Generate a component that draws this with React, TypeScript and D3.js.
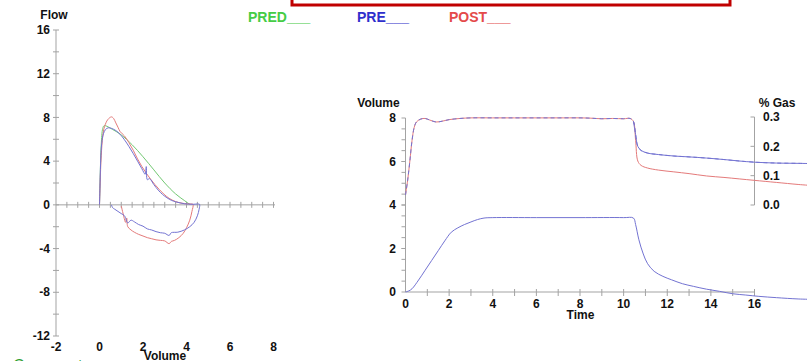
import React from "react";
import * as d3 from "d3";

const W = 807;
const H = 361;
const FONT = "'Liberation Sans', Arial, Helvetica, sans-serif";

// ---------- Flow–volume loop ----------
const flowMajorTicks = [-12, -8, -4, 0, 4, 8, 12, 16];
const flowMinorTicks = [-10, -6, -2, 2, 6, 10, 14];
const volumeTickLabels = [-2, 0, 2, 4, 6, 8];

// Predicted expiratory curve
const predVolume = [0, 0.03, 0.08, 0.15, 0.22, 0.6, 1.0, 1.5, 2.0, 2.5, 3.0, 3.5, 3.9, 4.15];
const predFlow = [0, 2.5, 5.5, 7.0, 7.25, 6.9, 6.4, 5.5, 4.4, 3.2, 2.0, 1.0, 0.4, 0.05];

// Pre-bronchodilator loop (expiration then inspiration)
const preVolume = [
  0, 0.02, 0.05, 0.1, 0.18, 0.28, 0.4, 0.55, 0.75, 0.95, 1.15, 1.35, 1.55, 1.75, 1.95, 2.1, 2.15, 2.2,
  2.3, 2.5, 2.7, 2.9, 3.1, 3.3, 3.5, 3.7, 3.9, 4.1, 4.3, 4.5, 4.6,
  4.58, 4.5, 4.35, 4.15, 3.9, 3.6, 3.3, 3.2, 3.0, 2.8, 2.6, 2.4, 2.2, 2.0, 1.8, 1.6, 1.45, 1.3, 1.15,
  1.0, 0.85, 0.7, 0.6, 0.55,
];
const preFlow = [
  0, 1.5, 3.8, 5.6, 6.5, 6.9, 7.05, 7.0, 6.8, 6.45, 5.95, 5.35, 4.7, 4.0, 3.3, 2.8, 3.5, 2.3,
  2.4, 1.85, 1.35, 0.95, 0.65, 0.42, 0.28, 0.18, 0.1, 0.07, 0.05, 0.08, 0.05,
  -0.4, -1.0, -1.6, -2.0, -2.3, -2.5, -2.55, -2.8, -2.6, -2.55, -2.45, -2.3, -2.2, -1.95, -1.8, -1.55,
  -1.4, -1.65, -1.0, -0.8, -0.6, -0.4, -0.25, 0,
];

// Post-bronchodilator loop (expiration then inspiration)
const postVolume = [
  0, 0.03, 0.08, 0.15, 0.23, 0.38, 0.55, 0.65, 0.75, 0.85, 0.95, 1.15, 1.35, 1.55, 1.75, 1.95, 2.15,
  2.35, 2.55, 2.75, 2.95, 3.2, 3.5, 3.8, 4.0, 4.2, 4.3,
  4.25, 4.15, 4.0, 3.85, 3.65, 3.45, 3.3, 3.2, 3.0, 2.8, 2.6, 2.4, 2.2, 2.0, 1.8, 1.6, 1.45, 1.3,
  1.25, 1.2, 1.12, 1.06, 1.0,
];
const postFlow = [
  0, 2.0, 4.5, 6.3, 7.15, 7.8, 8.05, 7.9, 7.5, 7.1, 6.7, 6.3, 5.7, 5.0, 4.2, 3.5, 2.9,
  2.35, 1.85, 1.4, 1.0, 0.6, 0.3, 0.15, 0.1, 0.08, 0.05,
  -0.6, -1.4, -2.1, -2.6, -3.0, -3.25, -3.35, -3.55, -3.3, -3.25, -3.2, -3.1, -3.0, -2.85, -2.7, -2.5,
  -2.3, -2.0, -1.2, -1.6, -1.1, -0.6, -0.1,
];

// ---------- Washout vs. time ----------
const volumeTicks = [0, 2, 4, 6, 8];
const timeTickLabels = [0, 2, 4, 6, 8, 10, 12, 14, 16];
const gasTicks = [0, 0.1, 0.2, 0.3];

const gasTime = [
  0, 0.1, 0.2, 0.3, 0.4, 0.5, 0.7, 0.9, 1.1, 1.4, 1.7, 2.0, 2.5, 3.0, 4, 5, 6, 7, 8, 8.5, 9, 9.5, 10,
  10.3, 10.45, 10.55, 10.65, 10.8, 11.1, 11.6, 12.3, 13, 13.8, 14.6, 15.3, 16, 17, 18, 18.7,
];
const gasPre = [
  0.034, 0.085, 0.15, 0.22, 0.265, 0.283, 0.293, 0.295, 0.29, 0.283, 0.286, 0.291, 0.295, 0.297, 0.297,
  0.297, 0.297, 0.297, 0.297, 0.296, 0.294, 0.295, 0.294, 0.295, 0.285, 0.24, 0.2, 0.186, 0.177, 0.172,
  0.167, 0.164, 0.16, 0.155, 0.15, 0.146, 0.143, 0.142, 0.141,
];
const gasPost = [
  0.034, 0.085, 0.15, 0.22, 0.265, 0.283, 0.293, 0.295, 0.29, 0.283, 0.286, 0.291, 0.295, 0.297, 0.297,
  0.297, 0.297, 0.297, 0.297, 0.296, 0.294, 0.295, 0.294, 0.295, 0.285, 0.22, 0.15, 0.135, 0.126, 0.119,
  0.113, 0.107, 0.099, 0.094, 0.089, 0.084, 0.077, 0.07, 0.066,
];

const washTime = [
  0, 0.15, 0.3, 0.6, 0.9, 1.2, 1.5, 1.8, 2.1, 2.4, 2.7, 3.0, 3.3, 3.6, 4, 6, 8, 10, 10.45, 10.55, 10.7,
  10.9, 11.1, 11.4, 11.8, 12.2, 12.7, 13.2, 13.8, 14.4, 15, 15.6, 16.2, 17, 18, 18.7,
];
const washVolume = [
  0, 0.05, 0.15, 0.55, 1.0, 1.45, 1.9, 2.35, 2.75, 2.95, 3.1, 3.22, 3.33, 3.4, 3.42, 3.42, 3.42, 3.42,
  3.4, 3.1, 2.4, 1.75, 1.3, 0.95, 0.72, 0.56, 0.38, 0.26, 0.13, 0.03, -0.08, -0.14, -0.2, -0.26, -0.32,
  -0.34,
];

const COLORS = {
  pred: "#72c872",
  pre: "#7373d2",
  post: "#e47a7a",
  axis: "#a3a3a3",
};

const zip = (xs: number[], ys: number[]) => xs.map((x, i) => [x, ys[i]] as [number, number]);

export default function App() {
  // Left panel scales
  const xL = d3.scaleLinear().domain([-2, 8]).range([56, 273.5]);
  const yL = d3.scaleLinear().domain([-12, 16]).range([336, 30]);
  // Right panel scales
  const xR = d3.scaleLinear().domain([0, 16]).range([405.5, 754.5]);
  const yV = d3.scaleLinear().domain([0, 8]).range([292, 118]);
  const yG = d3.scaleLinear().domain([0, 0.3]).range([205, 117]);

  const loopLine = d3
    .line<[number, number]>()
    .x((d) => xL(d[0]))
    .y((d) => yL(d[1]))
    .curve(d3.curveCatmullRom.alpha(0.5));
  const gasLine = d3
    .line<[number, number]>()
    .x((d) => xR(d[0]))
    .y((d) => yG(d[1]))
    .curve(d3.curveCatmullRom.alpha(0.5));
  const volLine = d3
    .line<[number, number]>()
    .x((d) => xR(d[0]))
    .y((d) => yV(d[1]))
    .curve(d3.curveCatmullRom.alpha(0.5));

  const volMinor = d3.range(-1.5, 8.01, 0.5);
  const vMinorR = d3.range(0.5, 8, 0.5);
  const tMinor = d3.range(1, 16.01, 1);

  const lbl = { fontFamily: FONT, fontWeight: 700, fontSize: 12, fill: "#111" } as const;

  return (
    <div style={{ position: "absolute", left: 0, top: 0 }}>
      <svg width={W} height={H} viewBox={`0 0 ${W} ${H}`} style={{ display: "block", background: "#fff" }}>
        {/* header frame */}
        <rect x={292} y={-10} width={438} height={15} fill="#fff" stroke="#c00000" strokeWidth={3} />

        {/* legend */}
        <g style={{ fontFamily: FONT, fontWeight: 700, fontSize: 14 }}>
          <text x={248} y={22} fill="#45cc45">PRED___</text>
          <text x={357} y={22} fill="#2f2fcc">PRE___</text>
          <text x={449} y={22} fill="#e44a4a">POST___</text>
        </g>

        {/* ---- Flow–volume panel ---- */}
        <g stroke={COLORS.axis} strokeWidth={1}>
          <line x1={xL(-2)} x2={xL(-2)} y1={yL(16)} y2={yL(-12)} />
          {flowMajorTicks.concat(flowMinorTicks).map((t) => (
            <line key={`fy${t}`} x1={xL(-2) - 3} x2={xL(-2) + 3} y1={yL(t)} y2={yL(t)} />
          ))}
          <line x1={xL(-2)} x2={xL(8) + 1.5} y1={yL(0)} y2={yL(0)} />
          {volMinor.map((t) => (
            <line key={`fx${t}`} x1={xL(t)} x2={xL(t)} y1={yL(0) - 3} y2={yL(0) + 3} />
          ))}
        </g>
        {flowMajorTicks.map((t) => (
          <text key={`fyl${t}`} x={50} y={yL(t)} dy="0.35em" textAnchor="end" {...lbl}>
            {t}
          </text>
        ))}
        {volumeTickLabels.map((t) => (
          <text key={`fxl${t}`} x={xL(t)} y={351} textAnchor="middle" {...lbl}>
            {t}
          </text>
        ))}
        <text x={54} y={19} textAnchor="middle" {...lbl}>Flow</text>
        <text x={165} y={360} textAnchor="middle" {...lbl}>Volume</text>

        <g fill="none" strokeWidth={1}>
          <path d={loopLine(zip(predVolume, predFlow)) || ""} stroke={COLORS.pred} />
          <path d={loopLine(zip(postVolume, postFlow)) || ""} stroke={COLORS.post} />
          <path d={loopLine(zip(preVolume, preFlow)) || ""} stroke={COLORS.pre} />
        </g>

        <text x={13} y={371} fill="#2f9e2f" style={{ fontFamily: FONT, fontSize: 16 }}>
          Comments
        </text>

        {/* ---- Washout panel ---- */}
        <g stroke={COLORS.axis} strokeWidth={1}>
          <line x1={xR(0)} x2={xR(0)} y1={yV(8)} y2={yV(0)} />
          {volumeTicks.concat(vMinorR).map((t) => (
            <line key={`vy${t}`} x1={xR(0) - 4} x2={xR(0)} y1={yV(t)} y2={yV(t)} />
          ))}
          <line x1={xR(0)} x2={xR(16)} y1={yV(0)} y2={yV(0)} />
          {tMinor.map((t) => (
            <line key={`tx${t}`} x1={xR(t)} x2={xR(t)} y1={yV(0) - 3} y2={yV(0) + 4} />
          ))}
          <line x1={xR(16)} x2={xR(16)} y1={yG(0.3)} y2={yG(0)} />
          {gasTicks.map((t) => (
            <line key={`gy${t}`} x1={xR(16) - 4} x2={xR(16)} y1={yG(t)} y2={yG(t)} />
          ))}
        </g>
        {volumeTicks.map((t) => (
          <text key={`vyl${t}`} x={396} y={yV(t)} dy="0.35em" textAnchor="end" {...lbl}>
            {t}
          </text>
        ))}
        {timeTickLabels.map((t) => (
          <text key={`txl${t}`} x={xR(t)} y={308} textAnchor="middle" {...lbl}>
            {t}
          </text>
        ))}
        {gasTicks.map((t) => (
          <text key={`gyl${t}`} x={763} y={yG(t)} dy="0.35em" {...lbl}>
            {d3.format(".1f")(t)}
          </text>
        ))}
        <text x={378.5} y={107} textAnchor="middle" {...lbl}>Volume</text>
        <text x={777} y={107} textAnchor="middle" {...lbl}>% Gas</text>
        <text x={580.5} y={319} textAnchor="middle" {...lbl}>Time</text>

        <g fill="none" strokeWidth={1}>
          <path d={volLine(zip(washTime, washVolume)) || ""} stroke={COLORS.pre} />
          <path d={gasLine(zip(gasTime, gasPost)) || ""} stroke={COLORS.post} />
          <path d={gasLine(zip(gasTime, gasPre)) || ""} stroke={COLORS.pre} strokeDasharray="4 3" />
          <path
            d={gasLine(zip(gasTime.slice(24), gasPre.slice(24))) || ""}
            stroke={COLORS.pre}
          />
        </g>
      </svg>
    </div>
  );
}
